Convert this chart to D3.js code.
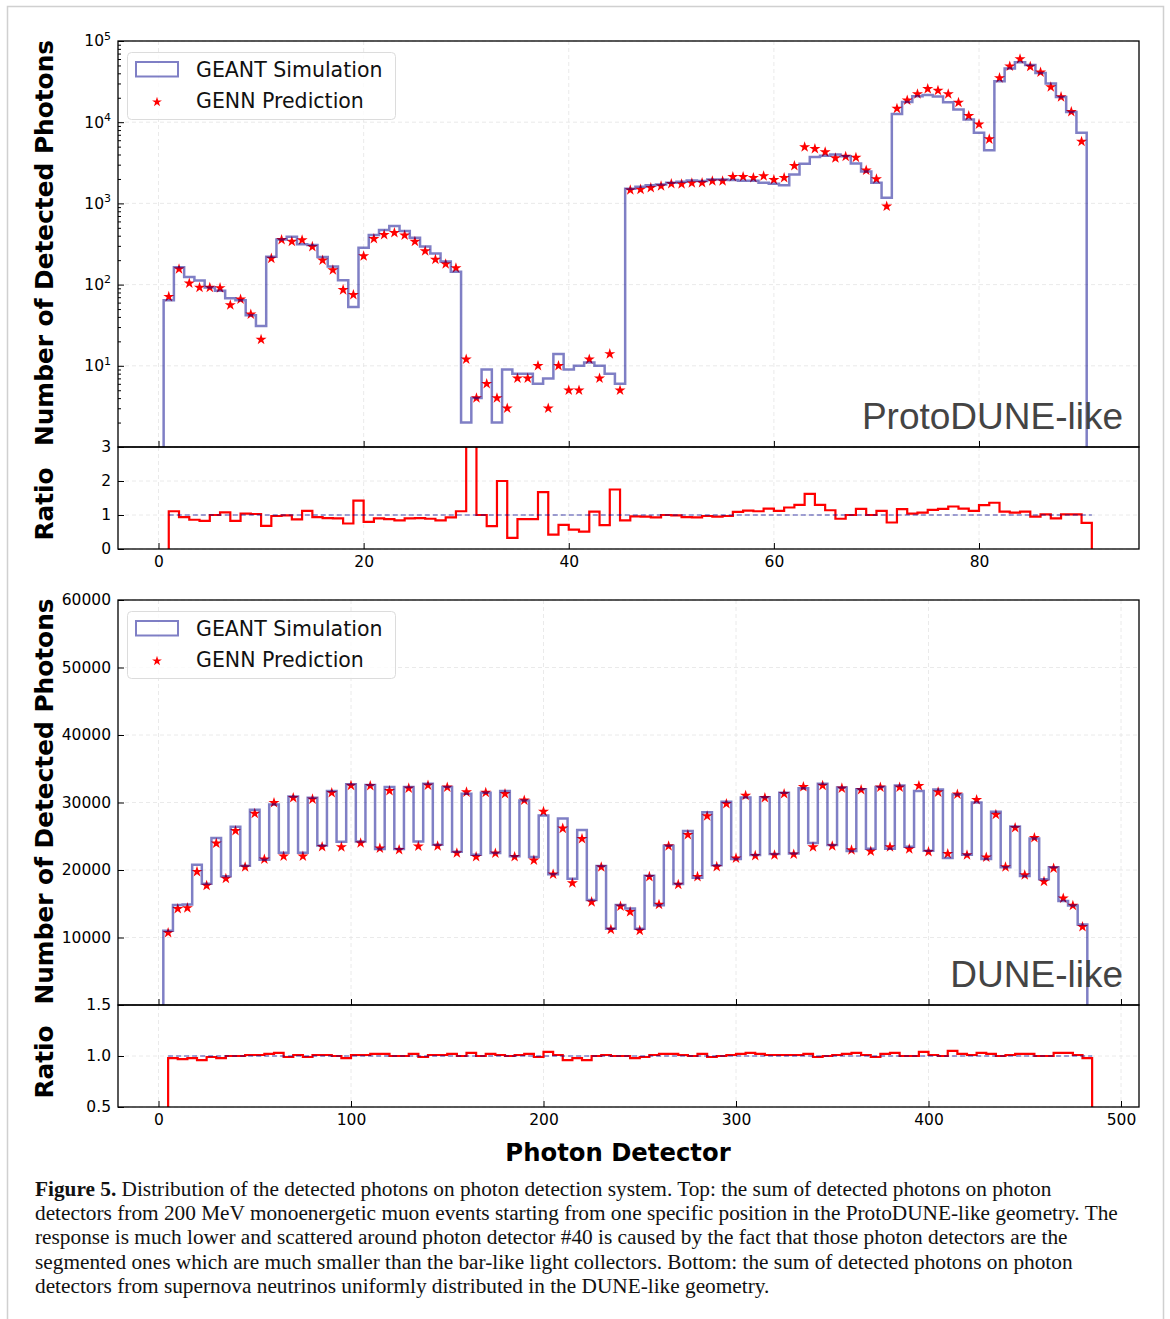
<!DOCTYPE html>
<html>
<head>
<meta charset="utf-8">
<script src="https://cdn.jsdelivr.net/npm/d3@7"></script>
<style>
  body { margin: 0; background: #fff; }
  svg { display: block; }
</style>
</head>
<body>
<div id="chart"></div>
<script>
// ---- ProtoDUNE-like (top): photon detector ids 1..90 ----
const protoDetectors = d3.range(1, 91);
const protoGeant = [
  64, 164, 124, 112, 92, 84, 68, 64, 42, 31,
  220, 360, 388, 315, 307, 218, 167, 113, 53, 284,
  407, 469, 526, 456, 378, 295, 242, 193, 144, 2,
  4, 9, 2, 9, 8, 8, 6, 7, 14, 9,
  10, 11, 10, 8, 6, 1514, 1603, 1679, 1712, 1795,
  1846, 1918, 1882, 1972, 1972, 1935, 1900, 1900, 1795, 1745,
  1679, 2276, 3076, 3716, 3857, 4003, 3820, 3105, 2473, 1790,
  1170, 12600, 17780, 20890, 21680, 20700, 17620, 14320, 10780, 7390,
  4530, 31920, 45710, 54700, 50700, 40440, 29860, 20470, 13400, 7390
];
const protoGenn = [
  71, 155, 104, 92, 92, 91, 56, 66, 43, 21,
  210, 356, 340, 353, 293, 199, 151, 86, 75, 224,
  367, 411, 435, 404, 340, 259, 204, 179, 160, 12,
  4, 6, 4, 3, 7, 7, 10, 3, 10, 5,
  5, 12, 7, 14, 5, 1459, 1486, 1560, 1633, 1745,
  1729, 1779, 1795, 1882, 1882, 2128, 2128, 2070, 2168, 1955,
  2070, 2904, 4932, 4700, 4276, 3607, 3784, 3681, 2548, 2000,
  918, 14730, 18620, 22280, 25700, 24500, 22280, 17460, 11970, 9440,
  6180, 35080, 48870, 60120, 48310, 41240, 27160, 20470, 13400, 5780
];
const protoRatio = [
  1.11, 0.94, 0.86, 0.83, 1.00, 1.08, 0.83, 1.04, 1.03, 0.68,
  0.97, 0.99, 0.87, 1.12, 0.94, 0.91, 0.90, 0.75, 1.42, 0.80,
  0.90, 0.88, 0.84, 0.90, 0.91, 0.89, 0.84, 0.93, 1.11, 6.00,
  1.00, 0.67, 2.00, 0.33, 0.88, 0.88, 1.67, 0.42, 0.71, 0.57,
  0.51, 1.10, 0.70, 1.75, 0.84, 0.96, 0.95, 0.93, 1.00, 0.99,
  0.94, 0.93, 0.97, 0.95, 0.97, 1.09, 1.13, 1.11, 1.19, 1.12,
  1.22, 1.30, 1.62, 1.30, 1.14, 0.89, 1.00, 1.18, 1.00, 1.12,
  0.78, 1.17, 1.04, 1.07, 1.15, 1.18, 1.25, 1.19, 1.12, 1.29,
  1.36, 1.10, 1.07, 1.10, 0.95, 1.02, 0.90, 1.02, 1.02, 0.77
];
const protoXTicks = [0, 20, 40, 60, 80];
const protoYTicks = [10, 100, 1000, 10000, 100000];
const protoRatioTicks = [0, 1, 2, 3];

// ---- DUNE-like (bottom): detectors grouped by 5, centres 5..480 ----
const duneDetectors = d3.range(5, 485, 5);
const duneGeant = [
  11000, 14830, 14900, 20790, 17980, 24730, 19060, 26400, 20640, 28920,
  21530, 29700, 22560, 30890, 22560, 30690, 23640, 31720, 24190, 32710,
  24240, 32610, 23100, 32310, 23100, 32310, 24240, 32760, 23740, 32310,
  22710, 31280, 22270, 31430, 22510, 31720, 22020, 30290, 21920, 28080,
  19360, 27630, 18720, 25910, 15570, 20590, 11280, 14830, 14290, 11280,
  19160, 14780, 23600, 17930, 25760, 18870, 28570, 20690, 30100, 21630,
  30740, 22220, 30790, 22360, 31430, 22460, 32120, 23990, 32760, 23690,
  32220, 22810, 31970, 23150, 32310, 23150, 32510, 23450, 31720, 22860,
  31920, 21770, 31180, 22270, 30000, 21630, 28620, 20390, 26450, 19110,
  24680, 18620, 20390, 15420, 14730, 11920
];
const duneGenn = [
  10690, 14240, 14380, 19750, 17680, 23940, 18720, 25810, 20440, 28370,
  21580, 29950, 22020, 30690, 22020, 30490, 23450, 31430, 23400, 32510,
  23990, 32460, 23200, 31720, 23000, 32120, 23500, 32560, 23550, 32260,
  22510, 31530, 21970, 31480, 22460, 31280, 21970, 30340, 21430, 28670,
  19360, 26160, 18080, 24630, 15270, 20440, 11180, 14630, 13790, 11030,
  19010, 14880, 23550, 17830, 25220, 19010, 27980, 20490, 29800, 21720,
  31030, 22120, 30690, 22220, 31280, 22320, 32310, 23400, 32510, 23550,
  32120, 22950, 31870, 22760, 32260, 23400, 32260, 23100, 32460, 22710,
  31530, 22410, 31230, 22220, 30390, 21870, 28230, 20440, 26260, 19260,
  24780, 18280, 20250, 15810, 14730, 11580
];
const duneRatio = [
  0.98, 0.97, 0.98, 0.96, 0.99, 0.98, 1.00, 1.00, 1.01, 1.01,
  1.02, 1.03, 0.99, 1.01, 0.99, 1.01, 1.01, 1.00, 0.98, 1.01,
  1.01, 1.02, 1.02, 1.00, 1.00, 1.02, 0.99, 1.01, 1.01, 1.02,
  1.00, 1.03, 1.00, 1.02, 1.01, 1.00, 1.01, 1.02, 0.99, 1.04,
  1.01, 0.96, 0.98, 0.96, 1.00, 1.01, 1.00, 1.00, 0.98, 0.99,
  1.01, 1.02, 1.02, 1.01, 1.00, 1.02, 0.99, 1.00, 1.01, 1.02,
  1.03, 1.02, 1.01, 1.01, 1.01, 1.01, 1.02, 0.99, 1.00, 1.01,
  1.02, 1.03, 1.01, 0.99, 1.02, 1.03, 1.00, 1.00, 1.04, 1.01,
  1.00, 1.05, 1.02, 1.01, 1.03, 1.02, 1.00, 1.01, 1.02, 1.02,
  1.00, 1.00, 1.03, 1.03, 1.01, 0.98
];
const duneXTicks = [0, 100, 200, 300, 400, 500];
const duneYTicks = [10000, 20000, 30000, 40000, 50000, 60000];
const duneRatioTicks = [0.5, 1.0, 1.5];

const legendLabels = ['GEANT Simulation', 'GENN Prediction'];
const captionLines = [
  'Distribution of the detected photons on photon detection system. Top: the sum of detected photons on photon',
  'detectors from 200 MeV monoenergetic muon events starting from one specific position in the ProtoDUNE-like geometry. The',
  'response is much lower and scattered around photon detector #40 is caused by the fact that those photon detectors are the',
  'segmented ones which are much smaller than the bar-like light collectors. Bottom: the sum of detected photons on photon',
  'detectors from supernova neutrinos uniformly distributed in the DUNE-like geometry.'
];

const W = 1170;
const H = 1319;
const left = 118;
const right = 1139;
const sans = "'DejaVu Sans', sans-serif";
const histColor = 'darkblue';

const svg = d3.select('#chart').append('svg')
  .attr('width', W)
  .attr('height', H)
  .style('font-family', sans);
const defs = svg.append('defs');

// page frame of the figure
svg.append('path')
  .attr('d', `M7.5,${H} V6.5 H1163.5 V${H}`)
  .attr('fill', 'none')
  .attr('stroke', '#d0d0d0')
  .attr('stroke-width', 1.5);

// step outline through bin edges, dropping to the floor value at both ends
const stepPath = (edges, values, xs, ys, floor) => {
  const pts = [[edges[0], floor]];
  values.forEach((v, i) => pts.push([edges[i], v]));
  pts.push([edges[edges.length - 1], values[values.length - 1]]);
  pts.push([edges[edges.length - 1], floor]);
  return d3.line().curve(d3.curveStepAfter).x(d => xs(d[0])).y(d => ys(d[1]))(pts);
};

const addClip = (id, y0, y1) => {
  defs.append('clipPath').attr('id', id)
    .append('rect')
    .attr('x', left).attr('y', y0)
    .attr('width', right - left).attr('height', y1 - y0);
};

const styleAxis = sel => {
  sel.select('.domain').remove();
  sel.selectAll('line').attr('stroke', '#000').attr('stroke-width', 1);
  sel.selectAll('text').attr('fill', '#000').style('font-family', sans).style('font-size', '15.5px');
};

function drawPanel(p) {
  const x = d3.scaleLinear().domain(p.xDomain).range([left, right]);
  const y = p.yScale.range([p.mainBottom, p.top]);
  const yr = d3.scaleLinear().domain(p.ratioDomain).range([p.ratioBottom, p.mainBottom]);
  const g = svg.append('g');

  addClip(p.id + '-main', p.top, p.mainBottom);
  addClip(p.id + '-ratio', p.mainBottom, p.ratioBottom);

  // dashed grid
  const grid = g.append('g')
    .attr('stroke', '#e4e4e4')
    .attr('stroke-width', 0.8)
    .attr('stroke-dasharray', '4,3');
  p.xTicks.forEach(t => {
    grid.append('line').attr('x1', x(t)).attr('x2', x(t)).attr('y1', p.top).attr('y2', p.ratioBottom);
  });
  p.yTicks.forEach(t => {
    grid.append('line').attr('x1', left).attr('x2', right).attr('y1', y(t)).attr('y2', y(t));
  });
  p.ratioTicks.forEach(t => {
    grid.append('line').attr('x1', left).attr('x2', right).attr('y1', yr(t)).attr('y2', yr(t));
  });

  // GENN prediction stars (drawn under the translucent histogram)
  g.append('g')
    .attr('clip-path', `url(#${p.id}-main)`)
    .selectAll('path')
    .data(p.detectors)
    .join('path')
    .attr('d', d3.symbol(d3.symbolStar, 38))
    .attr('transform', (d, i) => `translate(${x(d)},${y(p.genn[i])})`)
    .attr('fill', 'red');

  // GEANT simulation histogram
  const half = p.binWidth / 2;
  const histEdges = p.detectors.map(d => d - half).concat([p.detectors[p.detectors.length - 1] + half]);
  g.append('path')
    .attr('clip-path', `url(#${p.id}-main)`)
    .attr('d', stepPath(histEdges, p.geant, x, y, p.yScale.domain()[0]))
    .attr('fill', 'none')
    .attr('stroke', histColor)
    .attr('stroke-opacity', 0.5)
    .attr('stroke-width', 2.5);

  // ratio histogram
  const ratioEdges = p.detectors.concat([p.detectors[p.detectors.length - 1] + p.binWidth]);
  g.append('path')
    .attr('clip-path', `url(#${p.id}-ratio)`)
    .attr('d', stepPath(ratioEdges, p.ratio, x, yr, p.ratioDomain[0]))
    .attr('fill', 'none')
    .attr('stroke', 'red')
    .attr('stroke-width', 2.2);
  g.append('line')
    .attr('x1', x(ratioEdges[0])).attr('x2', x(ratioEdges[ratioEdges.length - 1]))
    .attr('y1', yr(1)).attr('y2', yr(1))
    .attr('stroke', histColor)
    .attr('stroke-opacity', 0.5)
    .attr('stroke-width', 1.5)
    .attr('stroke-dasharray', '5,3');

  // main y axis
  const yAxis = g.append('g')
    .attr('transform', `translate(${left},0)`)
    .call(d3.axisLeft(y).tickValues(p.yTicks).tickSize(-6).tickPadding(7).tickFormat(p.yFormat))
    .call(styleAxis);
  if (p.log) {
    yAxis.selectAll('text').each(function(d) {
      const t = d3.select(this).text('');
      t.append('tspan').text('10');
      t.append('tspan').attr('dy', '-0.6em').style('font-size', '11px').text(Math.round(Math.log10(d)));
    });
    const minor = [];
    protoYTicks.concat([1]).forEach(dec => {
      d3.range(2, 10).forEach(m => { if (dec * m < p.yScale.domain()[1]) minor.push(dec * m); });
    });
    g.append('g')
      .attr('transform', `translate(${left},0)`)
      .call(d3.axisLeft(y).tickValues(minor).tickSize(-3).tickFormat(''))
      .call(styleAxis);
  }

  // x ticks at the bottom of the main panel (no labels)
  g.append('g')
    .attr('transform', `translate(0,${p.mainBottom})`)
    .call(d3.axisBottom(x).tickValues(p.xTicks).tickSize(-6).tickFormat(''))
    .call(styleAxis);

  // ratio axes
  g.append('g')
    .attr('transform', `translate(${left},0)`)
    .call(d3.axisLeft(yr).tickValues(p.ratioTicks).tickSize(-6).tickPadding(7).tickFormat(p.ratioFormat))
    .call(styleAxis);
  g.append('g')
    .attr('transform', `translate(0,${p.ratioBottom})`)
    .call(d3.axisBottom(x).tickValues(p.xTicks).tickSize(-6).tickPadding(7).tickFormat(d3.format('d')))
    .call(styleAxis);

  // panel frames
  [[p.top, p.mainBottom], [p.mainBottom, p.ratioBottom]].forEach(([a, b]) => {
    g.append('rect')
      .attr('x', left).attr('y', a)
      .attr('width', right - left).attr('height', b - a)
      .attr('fill', 'none')
      .attr('stroke', '#000')
      .attr('stroke-width', 1.3);
  });

  // legend
  const lg = g.append('g').attr('transform', `translate(${left},${p.top})`);
  lg.append('rect')
    .attr('x', 9.5).attr('y', 11.5)
    .attr('width', 268).attr('height', 67)
    .attr('rx', 4)
    .attr('fill', '#fff').attr('fill-opacity', 0.8)
    .attr('stroke', '#dcdcdc');
  lg.append('rect')
    .attr('x', 18).attr('y', 21)
    .attr('width', 42).attr('height', 14.5)
    .attr('fill', 'none')
    .attr('stroke', histColor)
    .attr('stroke-opacity', 0.5)
    .attr('stroke-width', 2);
  lg.append('path')
    .attr('d', d3.symbol(d3.symbolStar, 30))
    .attr('transform', 'translate(39,61)')
    .attr('fill', 'red');
  lg.selectAll('text.lab')
    .data(legendLabels)
    .join('text')
    .attr('class', 'lab')
    .attr('x', 78)
    .attr('y', (d, i) => 35.5 + i * 31.5)
    .style('font-size', '20.5px')
    .attr('fill', '#111')
    .text(d => d);

  // geometry tag
  g.append('text')
    .attr('x', 1123)
    .attr('y', p.mainBottom - 18)
    .attr('text-anchor', 'end')
    .style('font-family', "'Liberation Sans', Arial, sans-serif")
    .style('font-size', '37px')
    .attr('fill', '#444')
    .text(p.tag);

  // axis titles
  const yTitle = (txt, cy) => {
    g.append('text')
      .attr('transform', `translate(53,${cy}) rotate(-90)`)
      .attr('text-anchor', 'middle')
      .style('font-size', '24.8px')
      .style('font-weight', 'bold')
      .attr('fill', '#000')
      .text(txt);
  };
  yTitle('Number of Detected Photons', (p.top + p.mainBottom) / 2 - 1);
  yTitle('Ratio', (p.mainBottom + p.ratioBottom) / 2 + 6);
}

drawPanel({
  id: 'proto',
  tag: 'ProtoDUNE-like',
  top: 41, mainBottom: 447, ratioBottom: 549,
  xDomain: [-3.95, 95.6],
  yScale: d3.scaleLog().domain([1, 100000]),
  log: true,
  ratioDomain: [0, 3],
  detectors: protoDetectors,
  binWidth: 1,
  geant: protoGeant,
  genn: protoGenn,
  ratio: protoRatio,
  xTicks: protoXTicks,
  yTicks: protoYTicks,
  ratioTicks: protoRatioTicks,
  yFormat: d3.format('d'),
  ratioFormat: d3.format('d')
});

drawPanel({
  id: 'dune',
  tag: 'DUNE-like',
  top: 600, mainBottom: 1005, ratioBottom: 1107,
  xDomain: [-21.04, 509.35],
  yScale: d3.scaleLinear().domain([0, 60000]),
  log: false,
  ratioDomain: [0.5, 1.5],
  detectors: duneDetectors,
  binWidth: 5,
  geant: duneGeant,
  genn: duneGenn,
  ratio: duneRatio,
  xTicks: duneXTicks,
  yTicks: duneYTicks,
  ratioTicks: duneRatioTicks,
  yFormat: d3.format('d'),
  ratioFormat: d3.format('.1f')
});

// shared x title
svg.append('text')
  .attr('x', 618)
  .attr('y', 1161)
  .attr('text-anchor', 'middle')
  .style('font-size', '24.3px')
  .style('font-weight', 'bold')
  .text('Photon Detector');

// caption
const cap = svg.append('g')
  .style('font-family', "'Liberation Serif', 'Times New Roman', serif")
  .style('font-size', '21.3px')
  .attr('fill', '#111');
captionLines.forEach((line, i) => {
  const t = cap.append('text').attr('x', 35).attr('y', 1196 + i * 24.2);
  if (i === 0) {
    t.append('tspan').style('font-weight', 'bold').text('Figure 5.');
    t.append('tspan').text(' ' + line);
  } else {
    t.text(line);
  }
});
</script>
</body>
</html>
